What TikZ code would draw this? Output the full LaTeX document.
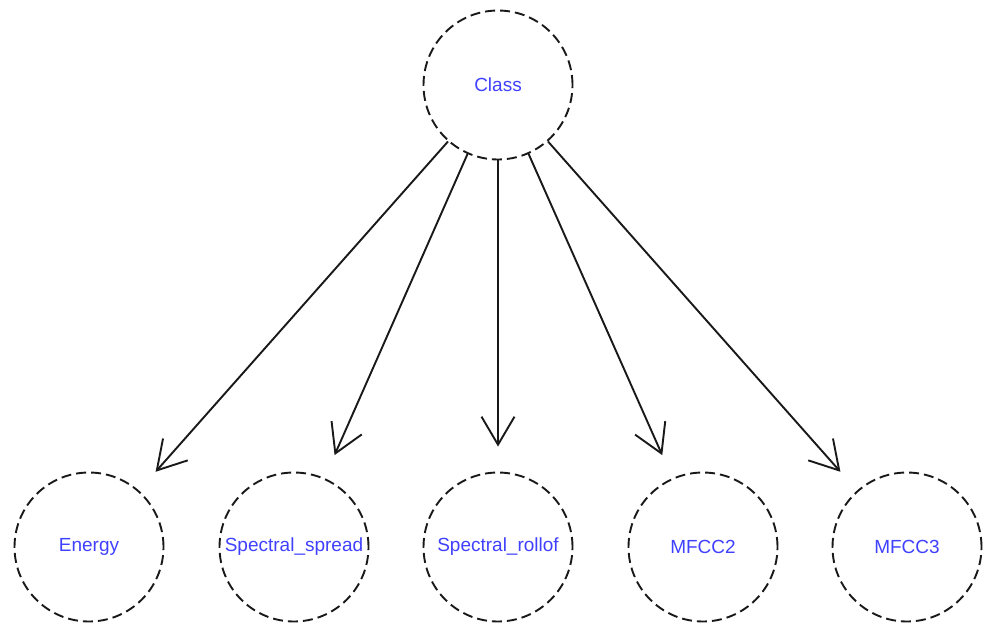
\documentclass[tikz,border=0pt]{standalone}
\usepackage{fontspec}
\setmainfont{Liberation Sans}
\usetikzlibrary{arrows.meta}
\definecolor{labelblue}{RGB}{64,64,255}
\definecolor{edgegray}{RGB}{25,25,25}
\begin{document}
\begin{tikzpicture}[x=1pt,y=-1pt,
  var/.style={circle, draw=edgegray, line width=1.9pt, dash pattern=on 10pt off 5pt,
    minimum size=149pt, inner sep=0pt, text=labelblue,
    font=\fontsize{19}{21}\selectfont},
  link/.style={draw=edgegray, line width=1.9pt, shorten >=25pt,
    -{Straight Barb[length=28pt,width=33pt,line width=1.9pt]}}]
  \useasboundingbox (0,0) rectangle (987,626);
  \node[var] (class) at (498,85) {Class};
  \node[var] (energy) at (89,547) {Energy};
  \node[var] (spread) at (294,547) {Spectral\_spread};
  \node[var] (rollof) at (498,547) {Spectral\_rollof};
  \node[var] (mfcc2) at (703,547) {MFCC2};
  \node[var] (mfcc3) at (907,547) {MFCC3};
  \foreach \t in {energy,spread,rollof,mfcc2,mfcc3}
    \draw[link] (class) -- (\t);
\end{tikzpicture}
\end{document}
